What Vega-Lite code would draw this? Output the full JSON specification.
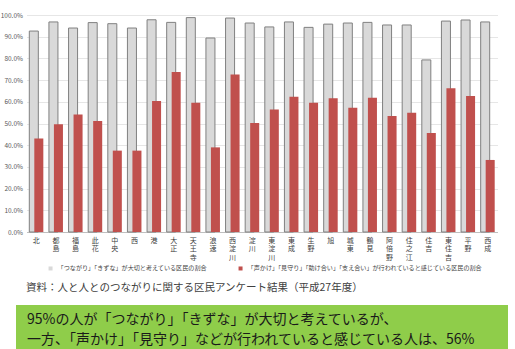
{
  "$schema": "https://vega.github.io/schema/vega-lite/v6.json",
  "background": "white",
  "padding": {"left": 0, "top": 12, "right": 0, "bottom": 0},
  "spacing": 10,
  "center": true,
  "resolve": {"legend": {"color": "independent"}, "scale": {"color": "independent", "x": "independent", "y": "independent"}},
  "config": {
    "font": "Noto Sans CJK JP",
    "view": {"stroke": null},
    "axis": {"labelFont": "Noto Sans CJK JP"},
    "legend": {"labelFont": "Noto Sans CJK JP"}
  },
  "datasets": {
    "survey": [
      {"district": "北", "series": "A", "value": 0.926},
      {"district": "都島", "series": "A", "value": 0.968},
      {"district": "福島", "series": "A", "value": 0.940},
      {"district": "此花", "series": "A", "value": 0.965},
      {"district": "中央", "series": "A", "value": 0.960},
      {"district": "西", "series": "A", "value": 0.940},
      {"district": "港", "series": "A", "value": 0.978},
      {"district": "大正", "series": "A", "value": 0.966},
      {"district": "天王寺", "series": "A", "value": 0.988},
      {"district": "浪速", "series": "A", "value": 0.894},
      {"district": "西淀川", "series": "A", "value": 0.986},
      {"district": "淀川", "series": "A", "value": 0.963},
      {"district": "東淀川", "series": "A", "value": 0.945},
      {"district": "東成", "series": "A", "value": 0.968},
      {"district": "生野", "series": "A", "value": 0.943},
      {"district": "旭", "series": "A", "value": 0.958},
      {"district": "城東", "series": "A", "value": 0.963},
      {"district": "鶴見", "series": "A", "value": 0.966},
      {"district": "阿倍野", "series": "A", "value": 0.954},
      {"district": "住之江", "series": "A", "value": 0.954},
      {"district": "住吉", "series": "A", "value": 0.793},
      {"district": "東住吉", "series": "A", "value": 0.972},
      {"district": "平野", "series": "A", "value": 0.977},
      {"district": "西成", "series": "A", "value": 0.968},
      {"district": "北", "series": "B", "value": 0.431},
      {"district": "都島", "series": "B", "value": 0.496},
      {"district": "福島", "series": "B", "value": 0.542},
      {"district": "此花", "series": "B", "value": 0.512},
      {"district": "中央", "series": "B", "value": 0.375},
      {"district": "西", "series": "B", "value": 0.375},
      {"district": "港", "series": "B", "value": 0.604},
      {"district": "大正", "series": "B", "value": 0.737},
      {"district": "天王寺", "series": "B", "value": 0.596},
      {"district": "浪速", "series": "B", "value": 0.390},
      {"district": "西淀川", "series": "B", "value": 0.726},
      {"district": "淀川", "series": "B", "value": 0.502},
      {"district": "東淀川", "series": "B", "value": 0.564},
      {"district": "東成", "series": "B", "value": 0.623},
      {"district": "生野", "series": "B", "value": 0.596},
      {"district": "旭", "series": "B", "value": 0.616},
      {"district": "城東", "series": "B", "value": 0.573},
      {"district": "鶴見", "series": "B", "value": 0.619},
      {"district": "阿倍野", "series": "B", "value": 0.535},
      {"district": "住之江", "series": "B", "value": 0.550},
      {"district": "住吉", "series": "B", "value": 0.456},
      {"district": "東住吉", "series": "B", "value": 0.662},
      {"district": "平野", "series": "B", "value": 0.627},
      {"district": "西成", "series": "B", "value": 0.332}
    ],
    "message": [
      {"line": 1, "text": "95%の人が「つながり」「きずな」が大切と考えているが、"},
      {"line": 2, "text": "一方、「声かけ」「見守り」などが行われていると感じている人は、56%"}
    ]
  },
  "vconcat": [
    {
      "width": 471,
      "height": 217,
      "data": {"name": "survey"},
      "encoding": {
        "x": {
          "field": "district",
          "type": "nominal",
          "sort": ["北","都島","福島","此花","中央","西","港","大正","天王寺","浪速","西淀川","淀川","東淀川","東成","生野","旭","城東","鶴見","阿倍野","住之江","住吉","東住吉","平野","西成"],
          "scale": {"paddingInner": 0, "paddingOuter": 0},
          "axis": {
            "title": null,
            "labelAngle": 0,
            "labelExpr": "split(datum.label, '')",
            "labelFontSize": 7,
            "labelLineHeight": 8.5,
            "labelColor": "#404040",
            "labelPadding": 4,
            "ticks": false,
            "domainColor": "#bfbfbf",
            "labelBaseline": "top"
          }
        },
        "y": {
          "field": "value",
          "type": "quantitative",
          "scale": {"domain": [0, 1]},
          "axis": {
            "title": null,
            "format": ".1%",
            "values": [0, 0.1, 0.2, 0.3, 0.4, 0.5, 0.6, 0.7, 0.8, 0.9, 1.0],
            "labelFontSize": 6.5,
            "labelColor": "#595959",
            "labelPadding": 4,
            "ticks": false,
            "domain": false,
            "gridColor": "#e6e6e6"
          }
        },
        "color": {
          "field": "series",
          "type": "nominal",
          "scale": {"domain": ["A", "B"], "range": ["#d9d9d9", "#c0504d"]},
          "legend": {
            "title": null,
            "orient": "none",
            "legendX": 21,
            "legendY": 250,
            "direction": "horizontal",
            "labelExpr": "datum.label == 'A' ? '「つながり」「きずな」が大切と考えている区民の割合' : '「声かけ」「見守り」「助け合い」「支え合い」が行われていると感じている区民の割合'",
            "labelFontSize": 6.1,
            "labelColor": "#404040",
            "labelLimit": 400,
            "symbolType": "square",
            "symbolSize": 16,
            "symbolStrokeWidth": 0,
            "columnPadding": 30
          }
        }
      },
      "layer": [
        {
          "transform": [{"filter": "datum.series == 'A'"}],
          "mark": {"type": "bar", "width": {"band": 0.46}, "xOffset": -2.5, "stroke": "#808080", "strokeWidth": 1}
        },
        {
          "transform": [{"filter": "datum.series == 'B'"}],
          "mark": {"type": "bar", "width": {"band": 0.46}, "xOffset": 2.5}
        }
      ]
    },
    {
      "width": 492,
      "height": 50,
      "data": {"name": "message"},
      "view": {"fill": "#8fcd4a", "stroke": null},
      "title": {
        "text": "資料：人と人とのつながりに関する区民アンケート結果（平成27年度）",
        "anchor": "start",
        "fontSize": 10.5,
        "fontWeight": "normal",
        "color": "#404040",
        "dx": 10,
        "offset": 12
      },
      "mark": {"type": "text", "align": "left", "baseline": "middle", "fontSize": 14, "color": "#1a1a1a", "dx": 11},
      "encoding": {
        "x": {"datum": 0, "type": "quantitative", "scale": {"domain": [0, 1]}, "axis": null},
        "y": {"field": "line", "type": "ordinal", "scale": {"padding": 0.75}, "axis": null},
        "text": {"field": "text"}
      }
    }
  ]
}
